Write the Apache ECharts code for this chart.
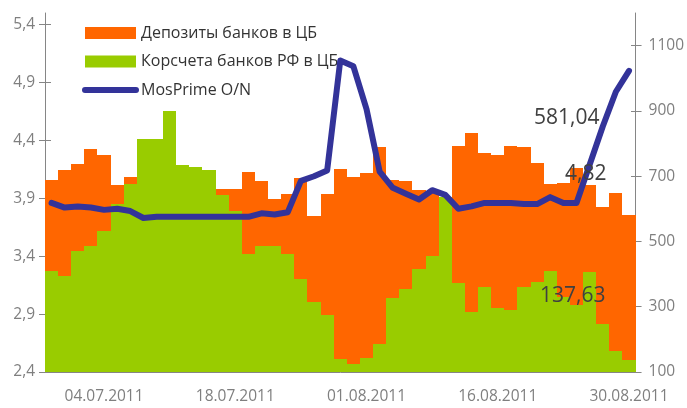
<!DOCTYPE html>
<html>
<head>
<meta charset="utf-8">
<script src="https://cdn.jsdelivr.net/npm/echarts@6/dist/echarts.min.js"></script>
<style>
html,body{margin:0;padding:0;background:#fff;}
#chart{width:687px;height:408px;}
</style>
</head>
<body>
<div id="chart"></div>
<script>
var dates = [
  '28.06.2011','29.06.2011','30.06.2011','01.07.2011',
  '04.07.2011','05.07.2011','06.07.2011','07.07.2011','08.07.2011',
  '11.07.2011','12.07.2011','13.07.2011','14.07.2011','15.07.2011',
  '18.07.2011','19.07.2011','20.07.2011','21.07.2011','22.07.2011',
  '25.07.2011','26.07.2011','27.07.2011','28.07.2011','29.07.2011',
  '01.08.2011','02.08.2011','03.08.2011','04.08.2011','05.08.2011',
  '08.08.2011','09.08.2011','10.08.2011','11.08.2011','12.08.2011',
  '16.08.2011','17.08.2011','18.08.2011','19.08.2011',
  '22.08.2011','23.08.2011','24.08.2011','25.08.2011','26.08.2011',
  '29.08.2011','30.08.2011'
];
var deposits = [
  689,720,736,782,764,674,696,690,700,720,
  700,690,690,660,660,712,684,629,644,694,
  578,644,721,699,709,788,687,684,657,650,
  620,794,831,770,764,794,788,739,675,678,
  725,672,605,650,581.04
];
var korschet = [
  409,394,470,485,531,615,675,815,815,901,
  733,727,720,641,593,462,485,485,462,384,
  314,274,140,124,144,187,327,355,416,455,
  636,372,284,360,297,291,360,375,409,330,
  306,407,248,165,137.63
];
var mosprime = [
  3.86,3.82,3.83,3.82,3.80,3.81,3.79,3.73,3.74,3.74,
  3.74,3.74,3.74,3.74,3.74,3.74,3.77,3.76,3.78,4.05,
  4.09,4.14,5.09,5.04,4.67,4.13,3.99,3.94,3.89,3.97,
  3.93,3.81,3.83,3.86,3.86,3.86,3.85,3.85,3.91,3.86,
  3.86,4.19,4.52,4.82,5.00
];
var leftTicks = [2.4,2.9,3.4,3.9,4.4,4.9,5.4];
var rightTicks = [100,300,500,700,900,1100];
var names = ['Депозиты банков в ЦБ','Корсчета банков РФ в ЦБ','MosPrime O/N'];
var notes = ['581,04','4,82','137,63'];

var FONT = '"Open Sans", sans-serif';
var AX = '#868686';
var LBL = '#7f7f7f';
var ORANGE = '#FF6600', GREEN = '#99CC00', BLUE = '#333399';
var RIGHT_MIN = 100, RIGHT_MAX = 1200;
function comma(v){ return String(v).replace('.', ','); }

// bars drawn through the axes' own scales, edges snapped to whole pixels
function barRenderer(color){
  return function(params, api){
    var i = api.value(0), v = api.value(1);
    var top = api.coord([i, v]);
    var base = api.coord([i, RIGHT_MIN]);
    var bw = api.size([1, 0])[0];
    var x0 = Math.round(top[0] - bw / 2), x1 = Math.round(top[0] + bw / 2);
    var y0 = Math.round(top[1]);
    return {type:'rect', shape:{x:x0, y:y0, width:x1 - x0, height:base[1] - y0},
      style:{fill:color}};
  };
}
function pairs(arr){ return arr.map(function(v, i){ return [i, v]; }); }

var grid = {left:45, right:50, top:13, bottom:36};
var chart = echarts.init(document.getElementById('chart'), null, {renderer:'canvas'});
chart.setOption({
  animation:false,
  backgroundColor:'#fff',
  textStyle:{fontFamily:FONT},
  grid:[
    Object.assign({}, grid),
    Object.assign({}, grid)
  ],
  legend:{
    orient:'vertical', left:82, top:25, padding:0,
    itemWidth:51, itemHeight:12, itemGap:12.5,
    textStyle:{fontFamily:FONT, fontSize:16, color:'#333'},
    data:[{name:names[0], icon:'rect'}, {name:names[1], icon:'rect'},
      {name:names[2], itemStyle:{opacity:0}, lineStyle:{width:6, cap:'round', color:BLUE}}]
  },
  xAxis:[
    {
      type:'category', data:dates, gridIndex:0,
      boundaryGap:true,
      axisLine:{lineStyle:{color:AX}},
      axisTick:{length:6, lineStyle:{color:AX}, interval:function(i){return i%5===0;}},
      axisLabel:{color:LBL, fontSize:15.5, fontFamily:FONT, margin:17,
        interval:function(i){return i%10===4;}},
      splitLine:{show:false}
    },
    {type:'category', data:dates, gridIndex:1, show:false}
  ],
  yAxis:[
    {
      type:'value', gridIndex:0, position:'left', min:2.4, max:5.5, interval:0.5,
      axisLine:{show:true, lineStyle:{color:AX}},
      axisTick:{show:true, length:6, lineStyle:{color:AX}, customValues:leftTicks},
      axisLabel:{color:LBL, fontSize:15.5, fontFamily:FONT, margin:10, customValues:leftTicks,
        formatter:function(v){return comma(v);}},
      splitLine:{show:false}
    },
    {
      type:'value', gridIndex:0, position:'right', min:RIGHT_MIN, max:RIGHT_MAX, interval:200,
      axisLine:{show:true, lineStyle:{color:AX}},
      axisTick:{show:true, length:6, lineStyle:{color:AX}, customValues:rightTicks},
      axisLabel:{color:LBL, fontSize:15.5, fontFamily:FONT, margin:13, customValues:rightTicks,
        formatter:function(v){return String(v);}},
      splitLine:{show:false}
    },
    {
      type:'value', gridIndex:1, position:'left', min:2.4, max:5.5, interval:0.5,
      axisLine:{show:false},
      axisTick:{show:true, inside:true, length:6, lineStyle:{color:AX}, customValues:leftTicks},
      axisLabel:{show:false}, splitLine:{show:false}
    },
    {
      type:'value', gridIndex:1, position:'right', min:RIGHT_MIN, max:RIGHT_MAX, interval:200,
      axisLine:{show:false},
      axisTick:{show:true, inside:true, length:6, lineStyle:{color:AX}, customValues:rightTicks},
      axisLabel:{show:false}, splitLine:{show:false}
    }
  ],
  series:[
    {
      name:names[0], type:'custom', xAxisIndex:0, yAxisIndex:1, data:pairs(deposits),
      renderItem:barRenderer(ORANGE), clip:true, z:2,
      itemStyle:{color:ORANGE}, encode:{x:0, y:1}
    },
    {
      name:names[1], type:'custom', xAxisIndex:0, yAxisIndex:1, data:pairs(korschet),
      renderItem:barRenderer(GREEN), clip:true, z:3,
      itemStyle:{color:GREEN}, encode:{x:0, y:1}
    },
    {
      name:names[2], type:'line', xAxisIndex:0, yAxisIndex:0, data:mosprime,
      symbol:'none', z:5,
      lineStyle:{color:BLUE, width:6, cap:'round', join:'round'},
      itemStyle:{color:BLUE}
    }
  ],
  graphic:[
    {type:'text', left:534, top:108, z:100, zlevel:1, style:{text:notes[0], font:'21px "Open Sans", sans-serif', fill:'#404040'}},
    {type:'text', left:565, top:164, z:100, zlevel:1, style:{text:notes[1], font:'21px "Open Sans", sans-serif', fill:'#404040'}},
    {type:'text', left:540, top:286, z:100, zlevel:1, style:{text:notes[2], font:'21px "Open Sans", sans-serif', fill:'#404040'}}
  ]
});
</script>
</body>
</html>
